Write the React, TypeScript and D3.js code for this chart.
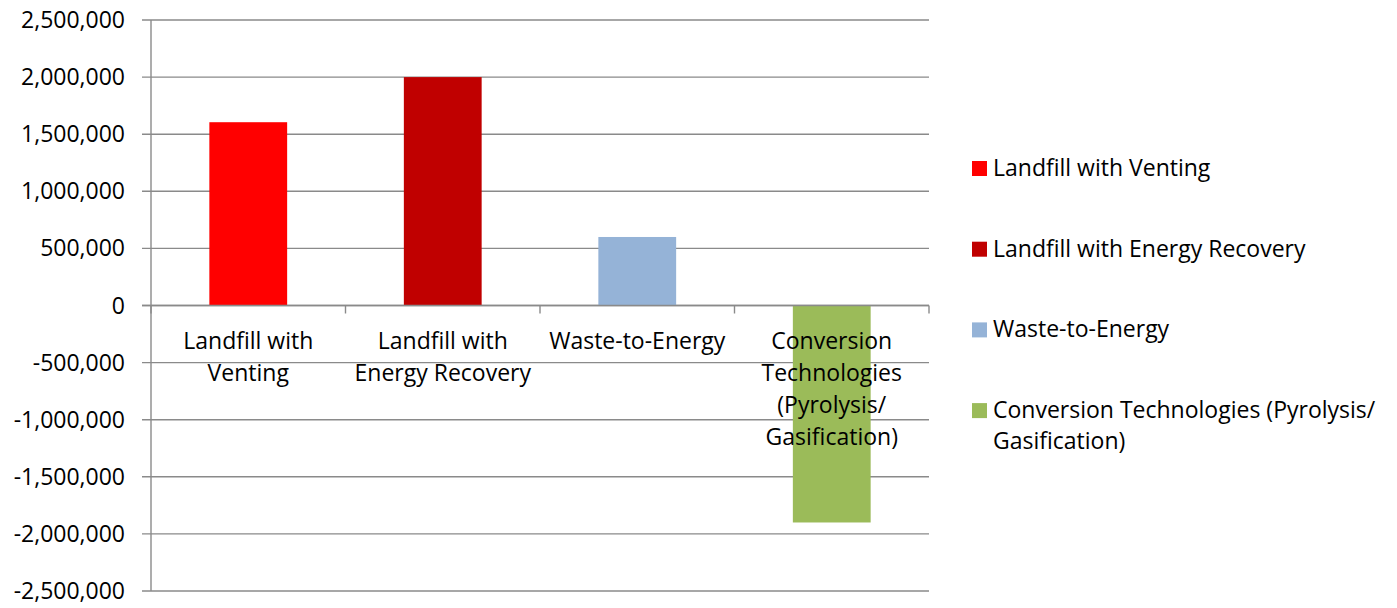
import React from "react";
import * as d3 from "d3";

const categories: string[][] = [
  ["Landfill with", "Venting"],
  ["Landfill with", "Energy Recovery"],
  ["Waste-to-Energy"],
  ["Conversion", "Technologies", "(Pyrolysis/", "Gasification)"],
];
const seriesNames: string[] = [
  "Landfill with Venting",
  "Landfill with Energy Recovery",
  "Waste-to-Energy",
  "Conversion Technologies (Pyrolysis/ Gasification)",
];
const legendLines: string[][] = [
  ["Landfill with Venting"],
  ["Landfill with Energy Recovery"],
  ["Waste-to-Energy"],
  ["Conversion Technologies (Pyrolysis/", "Gasification)"],
];
const values: number[] = [1605000, 2000000, 600000, -1900000];
const colors: string[] = ["#FF0000", "#C00000", "#95B3D7", "#9BBB59"];
const yTicks: number[] = [-2500000, -2000000, -1500000, -1000000, -500000, 0, 500000, 1000000, 1500000, 2000000, 2500000];

const W = 1397;
const H = 608;
const FONT = "'Open Sans', sans-serif";

export default function App() {
  const left = 151;
  const right = 929;
  const top = 20;
  const bottom = 591;
  const x = d3.scaleBand<number>().domain(d3.range(categories.length)).range([left, right]).padding(0);
  const y = d3.scaleLinear().domain([-2500000, 2500000]).range([bottom, top]);
  const bw = x.bandwidth();
  const fmtBase = d3.format(",");
  const fmt = (v: number) => fmtBase(v).replace("\u2212", "-");
  const gridColor = "#8a8a8a";
  const y0 = y(0);

  return (
    <svg
      width={W}
      height={H}
      style={{ position: "absolute", left: 0, top: 0, background: "#fff" }}
      fontFamily={FONT}
    >
      <rect x={0} y={0} width={W} height={H} fill="#fff" />
      {/* gridlines + y ticks */}
      {yTicks.map((t) => (
        <g key={t}>
          <line x1={left - 9} x2={right} y1={y(t)} y2={y(t)} stroke={gridColor} strokeWidth={1.4} />
          <text x={125} y={y(t)} dy="0.35em" textAnchor="end" fontSize={23} fill="#000">
            {fmt(t)}
          </text>
        </g>
      ))}
      {/* bars */}
      {values.map((v, i) => {
        const bx = (x(i) as number) + bw * 0.3;
        const yTop = y(Math.max(0, v));
        const yBot = y(Math.min(0, v));
        return <rect key={i} x={bx} y={yTop} width={bw * 0.4} height={yBot - yTop} fill={colors[i]} />;
      })}
      {/* axes */}
      <line x1={left} x2={left} y1={top} y2={bottom} stroke={gridColor} strokeWidth={1.4} />
      <line x1={left - 9} x2={right} y1={y0} y2={y0} stroke={gridColor} strokeWidth={1.4} />
      {d3.range(categories.length + 1).map((i) => {
        const tx = left + i * bw;
        return <line key={i} x1={tx} x2={tx} y1={y0} y2={y0 + 8} stroke={gridColor} strokeWidth={1.4} />;
      })}
      {/* category labels */}
      {categories.map((lines, i) => (
        <text key={i} textAnchor="middle" fontSize={23} fill="#000">
          {lines.map((ln, j) => (
            <tspan key={j} x={(x(i) as number) + bw / 2} y={y0 + 43 + j * 32}>
              {ln}
            </tspan>
          ))}
        </text>
      ))}
      {/* legend */}
      {legendLines.map((lines, i) => {
        const base = 176 + i * 80.7;
        return (
          <g key={i}>
            <rect x={972} y={base - 15} width={15} height={15} fill={colors[i]} />
            <text fontSize={23} fill="#000">
              <title>{seriesNames[i]}</title>
              {lines.map((ln, j) => (
                <tspan key={j} x={993} y={base + j * 31}>
                  {ln}
                </tspan>
              ))}
            </text>
          </g>
        );
      })}
    </svg>
  );
}
